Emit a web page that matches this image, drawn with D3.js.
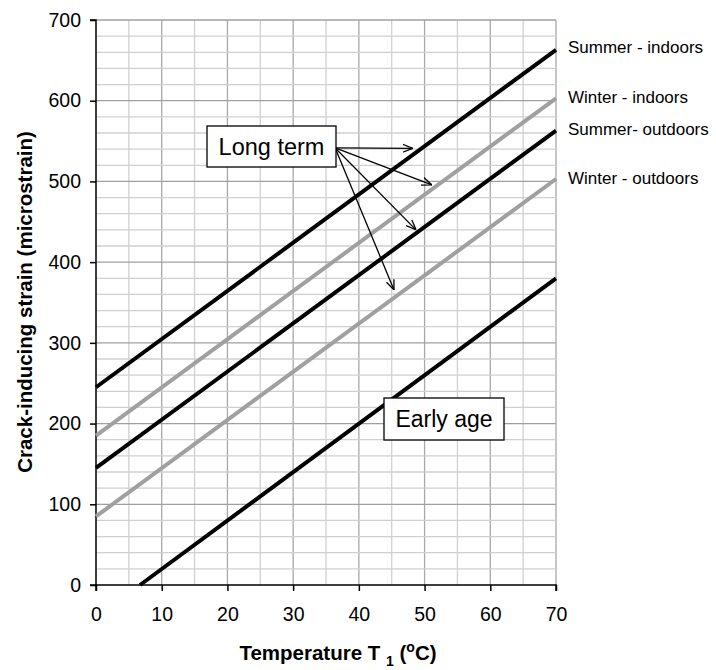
<!DOCTYPE html>
<html><head><meta charset="utf-8">
<script src="https://cdn.jsdelivr.net/npm/d3@7"></script>
<style>body{margin:0;background:#fff;} text{font-family:"Liberation Sans",Arial,sans-serif;}</style>
</head><body>
<svg id="c" width="716" height="670"></svg>
<script>
const xTicks = [0,10,20,30,40,50,60,70];
const yTicks = [0,100,200,300,400,500,600,700];
const seriesNames = ["Summer - indoors","Winter - indoors","Summer- outdoors","Winter - outdoors","Early age"];
const seriesT = [[0,70],[0,70],[0,70],[0,70],[6.7,70]];
const seriesV = [[245,663],[185,603],[145,563],[85,503],[0,380]];
const seriesColor = ["#000","#a0a0a0","#000","#a0a0a0","#000"];
const labelV = [667,605,565,504];
const arrowStart = [36.4,541.5];
const arrowEndsT = [48.2,51.1,48.7,45.35];
const arrowEndsV = [541,495.7,440,365.5];

const svg = d3.select("#c");
const x = d3.scaleLinear().domain([0,70]).range([96,556]);
const y = d3.scaleLinear().domain([0,700]).range([585,20]);

// grid
const g = svg.append("g");
for (let t=5;t<=70;t+=5){
  g.append("line").attr("x1",x(t)).attr("x2",x(t)).attr("y1",y(0)).attr("y2",y(700))
   .attr("stroke", t%10===0 ? "#a8a8a8" : "#d0d0d0").attr("stroke-width",1.3);
}
for (let v=20;v<=700;v+=20){
  g.append("line").attr("x1",x(0)).attr("x2",x(70)).attr("y1",y(v)).attr("y2",y(v))
   .attr("stroke", v%100===0 ? "#a0a0a0" : "#d0d0d0").attr("stroke-width",1.3);
}

// axes
const xa = svg.append("g").attr("transform",`translate(0,${y(0)})`)
  .call(d3.axisBottom(x).tickValues(xTicks).tickSize(6).tickPadding(16));
const ya = svg.append("g").attr("transform",`translate(${x(0)},0)`)
  .call(d3.axisLeft(y).tickValues(yTicks).tickSize(6).tickPadding(9));
[xa,ya].forEach(a=>{
  a.select(".domain").attr("stroke","#000").attr("stroke-width",1.5);
  a.selectAll(".tick line").attr("stroke","#000").attr("stroke-width",1.5);
  a.selectAll("text").attr("font-size",19.5).attr("fill","#000").attr("font-family","Liberation Sans, Arial, sans-serif");
});
ya.select(".domain").attr("d",`M-6,${y(700)}H0V${y(0)}H-6`);
xa.select(".domain").attr("d",`M${x(0)},6V0H${x(70)}V6`);

// lines
const line = d3.line().x(d=>x(d[0])).y(d=>y(d[1]));
seriesV.forEach((vals,i)=>{
  const pts = seriesT[i].map((t,j)=>[t,vals[j]]);
  svg.append("path").attr("d",line(pts)).attr("fill","none")
    .attr("stroke",seriesColor[i]).attr("stroke-width",4);
});

// right labels
labelV.forEach((v,i)=>{
  svg.append("text").attr("x",x(70)+12).attr("y",y(v)+6)
    .attr("font-size",17).attr("fill","#000").text(seriesNames[i]);
});

// arrows
const defs = svg.append("defs");
defs.append("marker").attr("id","ah").attr("viewBox","0 0 10 10").attr("refX",10).attr("refY",5)
  .attr("markerWidth",10).attr("markerHeight",10).attr("markerUnits","userSpaceOnUse").attr("orient","auto")
  .append("path").attr("d","M0,1 L10,5 L0,9").attr("fill","none").attr("stroke","#000").attr("stroke-width",1.3);
arrowEndsT.forEach((t,i)=>{
  svg.append("line").attr("x1",x(arrowStart[0])).attr("y1",y(arrowStart[1]))
    .attr("x2",x(t)).attr("y2",y(arrowEndsV[i])).attr("stroke","#000").attr("stroke-width",1.3)
    .attr("marker-end","url(#ah)");
});

// boxes
function box(cx,cy,w,h,label,fs){
  svg.append("rect").attr("x",cx-w/2).attr("y",cy-h/2).attr("width",w).attr("height",h)
    .attr("fill","#fff").attr("stroke","#000").attr("stroke-width",1.3);
  svg.append("text").attr("x",cx).attr("y",cy+fs*0.36).attr("text-anchor","middle").attr("font-size",fs).text(label);
}
box(271.5,146.5,129,41,"Long term",23.5);
box(444,419,120,42,"Early age",23);

// axis titles
const xt = svg.append("text").attr("x",338).attr("y",660).attr("text-anchor","middle")
  .attr("font-size",20.5).attr("font-weight","bold");
xt.append("tspan").text("Temperature T ");
xt.append("tspan").attr("font-size",14).attr("dy",6).text("1");
xt.append("tspan").attr("dy",-6).text(" (");
xt.append("tspan").attr("font-size",14).attr("dy",-8).text("o");
xt.append("tspan").attr("dy",8).text("C)");

svg.append("text").attr("transform","translate(32,302) rotate(-90)").attr("text-anchor","middle")
  .attr("font-size",20.5).attr("font-weight","bold").text("Crack-inducing strain (microstrain)");
</script>
</body></html>
